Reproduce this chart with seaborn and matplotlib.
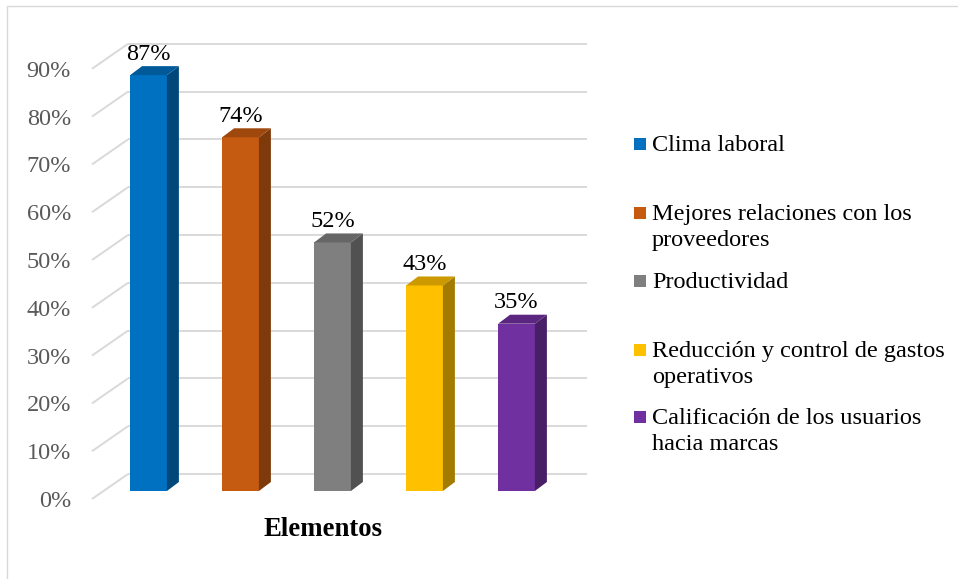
import matplotlib
matplotlib.use("Agg")
import matplotlib.pyplot as plt
import matplotlib.colors as mcolors
from matplotlib.patches import Polygon, Rectangle
from matplotlib.lines import Line2D
import seaborn as sns
import pandas as pd

# ---------------- data ----------------
categories = [
    "Clima laboral",
    "Mejores relaciones con los\nproveedores",
    "Productividad",
    "Reducción y control de gastos\noperativos",
    "Calificación de los usuarios\nhacia marcas",
]
values = [87, 74, 52, 43, 35]
value_labels = ["87%", "74%", "52%", "43%", "35%"]
colors = ["#0070C0", "#C55A11", "#7F7F7F", "#FFC000", "#7030A0"]
yticks = [0, 10, 20, 30, 40, 50, 60, 70, 80, 90]
ytick_labels = ["0%", "10%", "20%", "30%", "40%", "50%", "60%", "70%", "80%", "90%"]
xlabel = "Elementos"

# ---------------- style ----------------
sns.set_theme(style="white")
plt.rcParams["font.family"] = ["Liberation Serif", "DejaVu Serif"]

FS = 17.5
W, H = 958, 579
fig = plt.figure(figsize=(W / 100, H / 100), dpi=100)
fig.patch.set_facecolor("white")

# axes region (pixels) and pixel scale of data
ax_l, ax_r, ax_t, ax_b = 80, 600, 30, 515
x0px, xstep = 148.5, 92.0      # pixel of category 0 centre, pixels per category
y0px, ystep = 491.0, 4.78      # pixel of 0 %, pixels per 1 %
ax = fig.add_axes([ax_l / W, 1 - ax_b / H, (ax_r - ax_l) / W, (ax_b - ax_t) / H])

df = pd.DataFrame({"cat": categories, "val": values})
sns.barplot(data=df, x="cat", y="val", hue="cat", palette=colors, width=0.4,
            saturation=1, legend=False, ax=ax, linewidth=0, zorder=3)

ax.set_xlim((ax_l - x0px) / xstep, (ax_r - x0px) / xstep)
ax.set_ylim((y0px - ax_b) / ystep, (y0px - ax_t) / ystep)

# pseudo-3D geometry
wall_dx, wall_dy = 36 / xstep, 25 / ystep        # depth of the chart floor
back_off = (y0px - 474) / ystep                   # back wall 0% offset
bar_dx, bar_dy = 12 / xstep, 9 / ystep            # bar depth
front_x = (92 - x0px) / xstep
back_right = (587 - x0px) / xstep
grid_c = "#D9D9D9"

for t in yticks:
    yb = t + back_off
    ax.plot([front_x + wall_dx, back_right], [yb, yb], color=grid_c, lw=1.4,
            zorder=1, solid_capstyle="butt")
    ax.plot([front_x, front_x + wall_dx], [yb - wall_dy, yb], color=grid_c,
            lw=1.4, zorder=1, solid_capstyle="butt")

ax.set_yticks([t + back_off - wall_dy for t in yticks])
ax.set_yticklabels(ytick_labels)
ax.tick_params(axis="y", length=0, pad=6.5, labelsize=FS, labelcolor="#595959")
ax.set_xticks([])
ax.set_xlabel("")
ax.set_ylabel("")
for s in ax.spines.values():
    s.set_visible(False)
ax.set_facecolor("none")


def shade(c, f):
    r, g, b = mcolors.to_rgb(c)
    return (r * f, g * f, b * f)


bars = sorted([p for p in ax.patches if isinstance(p, Rectangle)], key=lambda p: p.get_x())
for p, lab in zip(bars, value_labels):
    x0 = p.get_x()
    w = p.get_width()
    h = p.get_height()
    fc = p.get_facecolor()
    x1 = x0 + w
    side = Polygon([(x1, 0), (x1 + bar_dx, bar_dy), (x1 + bar_dx, h + bar_dy), (x1, h)],
                   closed=True, facecolor=shade(fc, 0.64), edgecolor="none", zorder=3)
    top = Polygon([(x0, h), (x1, h), (x1 + bar_dx, h + bar_dy), (x0 + bar_dx, h + bar_dy)],
                  closed=True, facecolor=shade(fc, 0.80), edgecolor="none", zorder=3)
    ax.add_patch(side)
    ax.add_patch(top)
    ax.text(x0 + w / 2, h + 3.25, lab, ha="center", va="baseline", fontsize=FS,
            color="black", zorder=5)

# x-axis title
fig.text(323 / W, 1 - 536 / H, xlabel, ha="center", va="baseline", fontsize=19.3,
         fontweight="bold", color="black")

# legend (manual, Excel-like layout)
leg_baselines = [152, 221, 289, 358, 425]
fs_px = FS * 100 / 72
ls = (27 - 0.217 * fs_px) / (0.683 * fs_px)
for lab, c, bl in zip(categories, colors, leg_baselines):
    cy = bl - 8
    fig.add_artist(Rectangle((634 / W, 1 - (cy + 6) / H), 12 / W, 12 / H,
                             transform=fig.transFigure, facecolor=c, edgecolor="none"))
    fig.text(652 / W, 1 - (bl - 0.683 * fs_px) / H, lab, ha="left", va="top",
             fontsize=FS, color="black", linespacing=ls)

# frame lines (top and left)
fig.add_artist(Line2D([7 / W, 1], [1 - 6 / H, 1 - 6 / H], transform=fig.transFigure,
                      color=grid_c, lw=1.0))
fig.add_artist(Line2D([7 / W, 7 / W], [0, 1 - 6 / H], transform=fig.transFigure,
                      color=grid_c, lw=1.0))

fig.savefig("out.png", dpi=100, facecolor="white")
